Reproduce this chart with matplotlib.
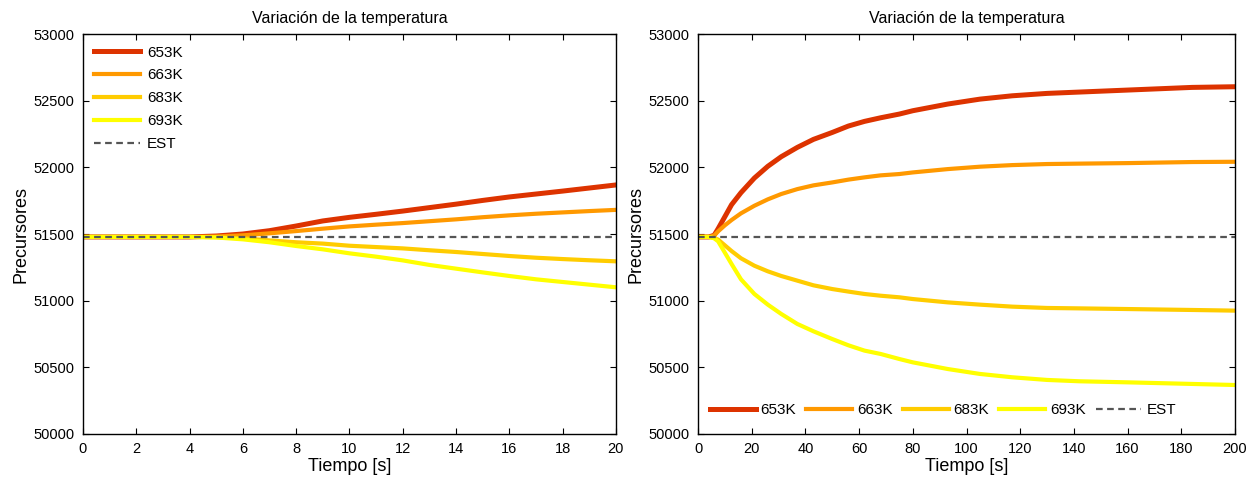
import matplotlib
matplotlib.use('Agg')
import matplotlib.pyplot as plt

plt.rcParams['font.family'] = ['Liberation Sans', 'DejaVu Sans']

labels = ['653K', '663K', '683K', '693K']
colors = ['#DD3300', '#FF9900', '#FFCC00', '#FFFF00']
est = 51478

# primer intervalo (0-20 s)
t_a = [0, 2, 4, 5, 6, 7, 8, 9, 10, 11, 12, 13, 14, 15, 16, 17, 18, 19, 20]
p_a = [
    [51478, 51478, 51478, 51485, 51500, 51525, 51560, 51598, 51625, 51648, 51672, 51698, 51724, 51752, 51778, 51800, 51822, 51845, 51868],
    [51478, 51478, 51478, 51481, 51490, 51505, 51522, 51540, 51557, 51570, 51582, 51596, 51610, 51626, 51640, 51652, 51662, 51672, 51681],
    [51478, 51478, 51478, 51476, 51468, 51452, 51438, 51428, 51412, 51402, 51392, 51378, 51365, 51350, 51335, 51322, 51312, 51303, 51295],
    [51478, 51478, 51478, 51474, 51460, 51438, 51410, 51385, 51355, 51330, 51302, 51268, 51240, 51212, 51185, 51160, 51140, 51120, 51100],
]

# segundo intervalo (0-200 s)
t_b = [0, 4, 6, 7.5, 10, 12.5, 16, 21, 26, 31, 37, 43, 50, 56, 62, 68, 75, 80, 93, 105, 117, 130, 142, 160, 184, 200]
p_b = [
    [51478, 51478, 51490, 51540, 51630, 51720, 51810, 51920, 52008, 52080, 52150, 52210, 52262, 52310, 52345, 52372, 52400, 52425, 52475, 52512, 52537, 52555, 52565, 52580, 52600, 52605],
    [51478, 51478, 51488, 51520, 51565, 51605, 51655, 51712, 51760, 51800, 51837, 51865, 51887, 51908, 51925, 51940, 51950, 51962, 51987, 52005, 52017, 52025, 52028, 52032, 52040, 52042],
    [51478, 51478, 51470, 51458, 51415, 51372, 51318, 51262, 51220, 51185, 51150, 51115, 51087, 51068, 51050, 51037, 51025, 51012, 50987, 50970, 50955, 50945, 50942, 50937, 50930, 50925],
    [51478, 51478, 51468, 51445, 51360, 51275, 51160, 51050, 50970, 50900, 50825, 50770, 50712, 50665, 50625, 50600, 50562, 50537, 50487, 50450, 50425, 50405, 50395, 50387, 50375, 50367],
]

fig = plt.figure(figsize=(12.57, 4.87), dpi=100)
ax1 = fig.add_axes([0.066, 0.109, 0.424, 0.821])
ax2 = fig.add_axes([0.5553, 0.109, 0.4272, 0.821])

def dibujar(ax, t, p, xmax, xstep):
    for i in range(len(labels)):
        ax.plot(t, p[i], color=colors[i], lw=3.6 if i == 0 else 3.0, label=labels[i])
    ax.plot([0, xmax], [est, est], color='#555555', lw=1.6, ls=(0, (3, 2)), label='EST')
    ax.set_xlim(0, xmax)
    ax.set_ylim(50000, 53000)
    ax.set_xticks(range(0, xmax + 1, xstep))
    ax.set_yticks(range(50000, 53001, 500))
    ax.tick_params(direction='in', length=4, width=0.8, labelsize=10.5, top=True, right=True, pad=6)
    ax.set_title('Variación de la temperatura', fontsize=11.5, pad=8)
    ax.set_xlabel('Tiempo [s]', fontsize=13, labelpad=1)
    ax.set_ylabel('Precursores', fontsize=13, labelpad=3)
    for s in ax.spines.values():
        s.set_linewidth(1.0)

dibujar(ax1, t_a, p_a, 20, 2)
dibujar(ax2, t_b, p_b, 200, 20)

ax1.legend(loc='upper left', frameon=False, fontsize=11, handlelength=3.0, handletextpad=0.45,
           labelspacing=0.58, borderaxespad=0.35)
ax2.legend(loc='center left', bbox_to_anchor=(0.022, 0.06), frameon=False, fontsize=11, ncol=5,
           handlelength=3.0, columnspacing=0.65, handletextpad=0.33, borderpad=0, borderaxespad=0)

fig.savefig('out.png', dpi=100)
